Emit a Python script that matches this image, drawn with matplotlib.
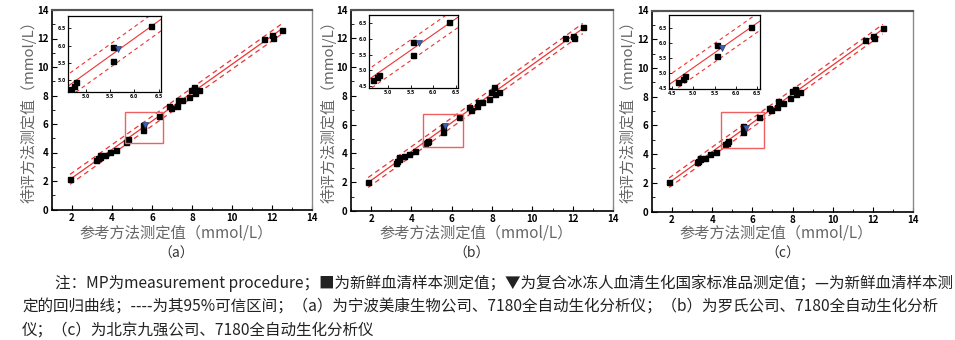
import numpy as np
import matplotlib.pyplot as plt
from matplotlib.patches import Rectangle

plt.rcParams['font.family'] = ['Noto Sans CJK SC', 'DejaVu Sans']

# 参考方法测定值 (x) 与 待评方法测定值 (y)
ref_a = [1.9, 3.2, 3.3, 3.4, 3.4, 3.65, 3.9, 4.2, 4.7, 4.75, 4.8, 5.55, 5.55, 6.35,
         6.85, 6.95, 7.25, 7.3, 7.5, 7.85, 7.95, 8.1, 8.15, 8.35, 11.6, 12.0, 12.05, 12.5]
test_a = [2.15, 3.5, 3.6, 3.8, 3.65, 3.8, 4.05, 4.2, 4.75, 4.85, 4.95, 5.95, 5.55, 6.55,
          7.25, 7.1, 7.25, 7.7, 7.65, 7.9, 8.4, 8.6, 8.2, 8.4, 12.0, 12.25, 12.05, 12.6]

ref_b = [1.85, 3.25, 3.3, 3.4, 3.4, 3.65, 3.9, 4.2, 4.65, 4.75, 4.8, 5.55, 5.55, 6.35,
         6.85, 6.95, 7.25, 7.3, 7.5, 7.85, 7.95, 8.1, 8.15, 8.35, 11.6, 12.0, 12.05, 12.5]
test_b = [2.0, 3.35, 3.5, 3.75, 3.6, 3.8, 3.95, 4.2, 4.7, 4.8, 4.85, 5.9, 5.5, 6.55,
          7.2, 7.05, 7.3, 7.6, 7.55, 7.8, 8.3, 8.6, 8.15, 8.3, 12.0, 12.15, 12.0, 12.75]

ref_c = [1.85, 3.25, 3.3, 3.4, 3.4, 3.65, 3.9, 4.2, 4.65, 4.75, 4.8, 5.55, 5.55, 6.35,
         6.85, 6.95, 7.25, 7.3, 7.5, 7.85, 7.95, 8.1, 8.15, 8.35, 11.6, 12.0, 12.05, 12.5]
test_c = [2.05, 3.45, 3.55, 3.75, 3.65, 3.75, 4.0, 4.15, 4.7, 4.8, 4.9, 5.95, 5.55, 6.55,
          7.2, 7.1, 7.25, 7.7, 7.55, 7.9, 8.4, 8.5, 8.2, 8.35, 11.95, 12.2, 12.1, 12.75]

# 国家标准品 (▼)
std_x = [5.67, 5.68, 5.68]
std_y = [5.9, 5.88, 5.85]

# 放大区域 (x0, x1, y0, y1)
zoom_a = [4.63, 6.55, 4.67, 6.86]
zoom_b = [4.57, 6.55, 4.45, 6.77]
zoom_c = [4.43, 6.57, 4.45, 6.95]

tags = ['（a）', '（b）', '（c）']

W, H = 955, 340
fig = plt.figure(figsize=(W / 100, H / 100), dpi=100)

# 像素位置: 主图 (left, top, right, bottom), 小图同
main_px = [(52, 10, 312, 209.5), (351, 9.5, 613, 211), (652, 10.5, 913, 211.5)]
ins_px = [(68, 15.5, 161, 92), (369, 15, 458, 87.5), (669, 15, 760, 89)]
ylab_x = [29, 329, 628]
xlab_x = [176, 476, 776]
tag_x = [176, 472, 783]


def to_fig(box):
    l, t, r, b = box
    return [l / W, 1 - b / H, (r - l) / W, (b - t) / H]


def fit_band(x, y, xs):
    x = np.asarray(x)
    y = np.asarray(y)
    n = len(x)
    k, b = np.polyfit(x, y, 1)
    res = y - (k * x + b)
    s = np.sqrt(np.sum(res ** 2) / (n - 2))
    sxx = np.sum((x - x.mean()) ** 2)
    half = 2.056 * s * np.sqrt(1 + 1 / n + (xs - x.mean()) ** 2 / sxx)
    yf = k * xs + b
    return yf, yf - half, yf + half


def style_spines(ax, lw):
    ax.spines['left'].set_linewidth(lw)
    ax.spines['bottom'].set_linewidth(lw)
    ax.spines['top'].set_linewidth(lw * 1.3)
    ax.spines['top'].set_color('#555555')
    ax.spines['right'].set_color('#888888')
    ax.spines['right'].set_linewidth(lw * 0.8)


red = '#ee3333'
data = [(ref_a, test_a, zoom_a), (ref_b, test_b, zoom_b), (ref_c, test_c, zoom_c)]

for i, (rx, ty, zm) in enumerate(data):
    ax = fig.add_axes(to_fig(main_px[i]))
    xs = np.linspace(min(rx), max(rx), 200)
    yf, lo, hi = fit_band(rx, ty, xs)
    ax.plot(xs, yf, color=red, lw=0.9)
    ax.plot(xs, lo, color=red, lw=0.9, ls=(0, (4, 3)))
    ax.plot(xs, hi, color=red, lw=0.9, ls=(0, (4, 3)))
    ax.plot(rx, ty, 's', color='black', ms=3.6, mec='black')
    ax.plot(std_x[i], std_y[i], 'v', color='#3a60b8', ms=4, mec='#2a3a70', mew=0.5)
    ax.add_patch(Rectangle((zm[0], zm[2]), zm[1] - zm[0], zm[3] - zm[2],
                           fill=False, ec='#f06060', lw=1.0, zorder=5))
    ax.set_xlim(1, 14)
    ax.set_ylim(0, 14)
    ax.set_xticks(range(2, 15, 2))
    ax.set_yticks(range(0, 15, 2))
    ax.set_xticks(range(1, 15, 1), minor=True)
    ax.set_yticks(range(0, 15, 1), minor=True)
    ax.tick_params(direction='in', length=3.5, width=0.8, labelsize=7, pad=2.5)
    ax.tick_params(which='minor', direction='in', length=2, width=0.6)
    for lab in ax.get_xticklabels() + ax.get_yticklabels():
        lab.set_fontweight('bold')
    style_spines(ax, 1.2)

    fig.text(ylab_x[i] / W, 1 - 108 / H, '待评方法测定值（mmol/L）', rotation=90,
             ha='center', va='center', fontsize=10.8, color='#666666')
    fig.text(xlab_x[i] / W, 1 - 233 / H, '参考方法测定值（mmol/L）',
             ha='center', va='center', fontsize=11, color='#666666')
    fig.text(tag_x[i] / W, 1 - 254 / H, tags[i], ha='center', va='center',
             fontsize=10, color='#333333')

    # 小图
    ai = fig.add_axes(to_fig(ins_px[i]))
    xs2 = np.linspace(zm[0] - 0.2, zm[1] + 0.2, 100)
    yf2, lo2, hi2 = fit_band(rx, ty, xs2)
    ai.plot(xs2, yf2, color=red, lw=0.8)
    ai.plot(xs2, lo2, color=red, lw=0.8, ls=(0, (3.5, 3)))
    ai.plot(xs2, hi2, color=red, lw=0.8, ls=(0, (3.5, 3)))
    ai.plot(rx, ty, 's', color='black', ms=3.6)
    ai.plot(std_x[i], std_y[i], 'v', color='#3a60b8', ms=4.5, mec='#2a3a70', mew=0.5)
    ai.set_xlim(zm[0], zm[1])
    ai.set_ylim(zm[2], zm[3])
    ticks = [4.5, 5.0, 5.5, 6.0, 6.5]
    ai.set_xticks([t for t in ticks if zm[0] < t < zm[1]])
    ai.set_yticks([t for t in ticks if zm[2] < t < zm[3]])
    ai.tick_params(direction='in', length=2, width=0.6, labelsize=4, pad=1.5)
    for lab in ai.get_xticklabels() + ai.get_yticklabels():
        lab.set_fontweight('bold')
    for sp in ai.spines.values():
        sp.set_linewidth(0.9)

caption = [
    '注：MP为measurement procedure；■为新鲜血清样本测定值；▼为复合冰冻人血清生化国家标准品测定值；—为新鲜血清样本测',
    '定的回归曲线；----为其95%可信区间；（a）为宁波美康生物公司、7180全自动生化分析仪；（b）为罗氏公司、7180全自动生化分析',
    '仪；（c）为北京九强公司、7180全自动生化分析仪',
]
cap_x = [55, 22, 22]
cap_y = [283, 307, 330]
for txt, cx, cy in zip(caption, cap_x, cap_y):
    fig.text(cx / W, 1 - cy / H, txt, ha='left', va='center', fontsize=11.2,
             color='#222222')

fig.savefig('out.png', dpi=100)
